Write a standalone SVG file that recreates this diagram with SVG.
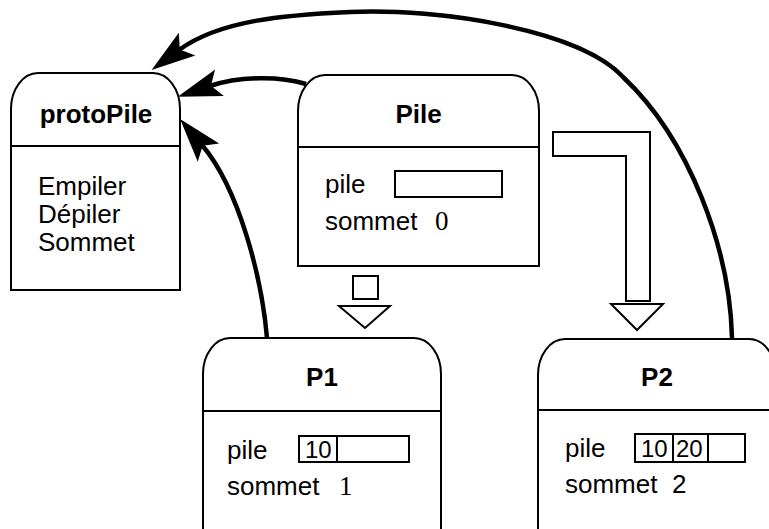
<svg xmlns="http://www.w3.org/2000/svg" width="769" height="529" viewBox="0 0 769 529">
  <style>
    .box { fill: #fff; stroke: #000; stroke-width: 2; }
    .sep { fill: none; stroke: #000; stroke-width: 2; }
    .cell { fill: #fff; stroke: #000; stroke-width: 2; }
    .title { font-family: "Liberation Sans", Arial, sans-serif; font-weight: bold; font-size: 26px; text-anchor: middle; fill: #000; }
    .txt { font-family: "Liberation Sans", Arial, sans-serif; font-size: 26px; fill: #000; }
    .num { font-family: "Liberation Sans", Arial, sans-serif; font-size: 24px; fill: #000; }
    .ser { font-family: "Liberation Serif", "Times New Roman", serif; font-size: 27px; fill: #000; }
    .link { fill: none; stroke: #000; stroke-width: 4.5; marker-end: url(#head); }
    .gen { fill: #fff; stroke: #000; stroke-width: 2; stroke-linejoin: miter; }
  </style>
  <defs>
    <marker id="head" markerUnits="userSpaceOnUse" viewBox="-46 -17 50 34" markerWidth="50" markerHeight="34" refX="-34" refY="0" orient="auto">
      <path d="M0,0 L-44,-14 L-35,0 L-44,14 Z" fill="#000"/>
    </marker>
  </defs>

  <!-- inheritance links (Pile -> P1, Pile -> P2) -->
  <g id="inheritance">
    <rect class="gen" x="353" y="276" width="25" height="23"/>
    <polygon class="gen" points="339,306 390,306 365,328"/>
    <polygon class="gen" points="553,132 650,132 650,301 626,301 626,156 553,156"/>
    <polygon class="gen" points="611,304 663,304 637,330"/>
  </g>

  <!-- prototype links to protoPile -->
  <g id="connectors">
    <path class="link" d="M732,338 C730,250 690,140 623,77 C580,30 440,8 350,12 C285,15 220,20 179,50"/>
    <path class="link" d="M306,84 C280,76 240,76 210,86"/>
    <path class="link" d="M267,338 C262,280 240,190 202,145"/>
  </g>

  <g id="protoPile">
    <path class="box" d="M11,290 L11,109 A27,36 0 0 1 38,73 L153,73 A27,36 0 0 1 180,109 L180,290 Z"/>
    <line class="sep" x1="11" y1="146" x2="180" y2="146"/>
    <text class="title" x="96" y="123">protoPile</text>
    <text class="txt" x="38" y="195">Empiler</text>
    <text class="txt" x="38" y="223">Dépiler</text>
    <text class="txt" x="38" y="251">Sommet</text>
  </g>

  <g id="Pile">
    <path class="box" d="M298,266 L298,111 A27,36 0 0 1 325,75 L512,75 A27,36 0 0 1 539,111 L539,266 Z"/>
    <line class="sep" x1="298" y1="147" x2="539" y2="147"/>
    <text class="title" x="418.5" y="123">Pile</text>
    <text class="txt" x="325" y="193">pile</text>
    <rect class="cell" x="395" y="171" width="107" height="26"/>
    <text class="txt" x="325" y="230">sommet</text>
    <text class="ser" x="435" y="230">0</text>
  </g>

  <g id="P1">
    <path class="box" d="M203,560 L203,374 A27,36 0 0 1 230,338 L414,338 A27,36 0 0 1 441,374 L441,560 Z"/>
    <line class="sep" x1="203" y1="411" x2="441" y2="411"/>
    <text class="title" x="322" y="386">P1</text>
    <text class="txt" x="227" y="459">pile</text>
    <rect class="cell" x="299" y="436" width="110" height="26"/>
    <line class="sep" x1="337" y1="436" x2="337" y2="462"/>
    <text class="num" x="305" y="458">10</text>
    <text class="txt" x="227" y="495">sommet</text>
    <text class="ser" x="339" y="495">1</text>
  </g>

  <g id="P2">
    <path class="box" d="M538,560 L538,375 A27,36 0 0 1 565,339 L749,339 A27,36 0 0 1 776,375 L776,560 Z"/>
    <line class="sep" x1="538" y1="410" x2="776" y2="410"/>
    <text class="title" x="657" y="386">P2</text>
    <text class="txt" x="565" y="457">pile</text>
    <rect class="cell" x="635" y="434" width="110" height="28"/>
    <line class="sep" x1="673" y1="434" x2="673" y2="462"/>
    <line class="sep" x1="708" y1="434" x2="708" y2="462"/>
    <text class="num" x="641" y="457">10</text>
    <text class="num" x="676" y="457">20</text>
    <text class="txt" x="565" y="493">sommet</text>
    <text class="txt" x="672" y="493">2</text>
  </g>
</svg>
